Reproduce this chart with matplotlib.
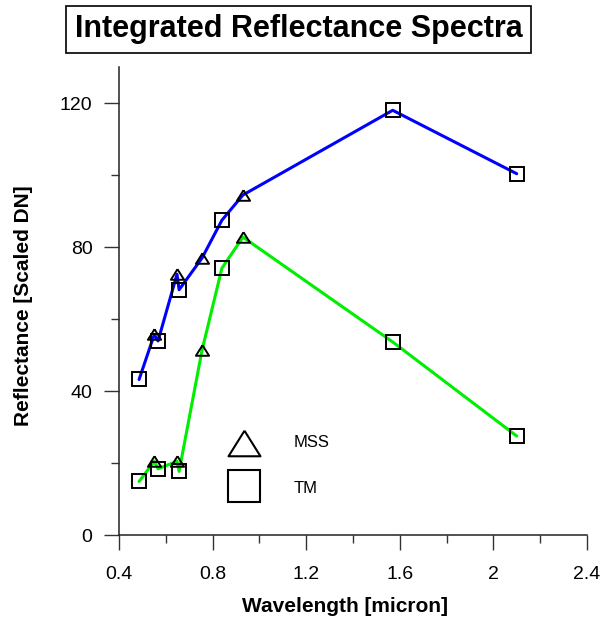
import numpy as np
import matplotlib
matplotlib.use('Agg')
import matplotlib.pyplot as plt
from matplotlib.ticker import MultipleLocator

plt.rcParams['font.family'] = ['Liberation Sans', 'DejaVu Sans']

# band centres [micron]
mss_wl = [0.551, 0.648, 0.755, 0.93]
tm_wl = [0.486, 0.567, 0.657, 0.84, 1.57, 2.1]

# bright target (blue) and dark target (green), scaled DN
mss_bright = [55.8, 72.5, 77.0, 94.5]
tm_bright = [43.3, 54.0, 68.2, 87.5, 118.0, 100.4]
mss_dark = [20.6, 20.6, 51.4, 82.8]
tm_dark = [15.0, 18.5, 17.8, 74.2, 53.7, 27.6]

tri = [(0, 0.8), (-1, -0.8), (1, -0.8), (0, 0.8)]

fig = plt.figure(figsize=(6.03, 6.18), dpi=100)
ax = fig.add_axes([0.1973, 0.1335, 0.776, 0.758])


def spectrum(mss, tm, color):
    wl = np.concatenate([mss_wl, tm_wl])
    val = np.concatenate([mss, tm])
    order = np.argsort(wl)
    ax.plot(wl[order], val[order], color=color, lw=2.2, zorder=2, solid_capstyle='round')
    ax.plot(mss_wl, mss, ls='none', marker=tri, ms=9.5, mfc='none', mec='black', mew=1.4, zorder=3)
    ax.plot(tm_wl, tm, ls='none', marker='s', ms=9.5, mfc='none', mec='black', mew=1.4, zorder=3)


spectrum(mss_bright, tm_bright, '#0000ff')
spectrum(mss_dark, tm_dark, '#00ee00')

ax.set_xlim(0.4, 2.4)
ax.set_ylim(0, 130)
ax.xaxis.set_major_locator(MultipleLocator(0.4))
ax.xaxis.set_minor_locator(MultipleLocator(0.2))
ax.yaxis.set_major_locator(MultipleLocator(40))
ax.yaxis.set_minor_locator(MultipleLocator(20))
ax.set_xticks([0.4, 0.8, 1.2, 1.6, 2.0, 2.4])
ax.set_xticklabels(['0.4', '0.8', '1.2', '1.6', '2', '2.4'])

for s in ['top', 'right']:
    ax.spines[s].set_visible(False)
for s in ['left', 'bottom']:
    ax.spines[s].set_color('#222222')
    ax.spines[s].set_linewidth(1.1)
ax.tick_params(which='major', direction='out', length=11, width=1, color='#333333',
               labelsize=14, pad=8)
ax.tick_params(axis='x', which='major', pad=11)
ax.tick_params(which='minor', direction='out', length=5.5, width=1, color='#333333')

ax.set_xlabel('Wavelength [micron]', fontsize=15, fontweight='bold', va='center')
ax.xaxis.set_label_coords(0.483, -0.151)
ax.set_ylabel('Reflectance [Scaled DN]', fontsize=15, fontweight='bold', va='center')
ax.yaxis.set_label_coords(-0.205, 0.49)

# key
ax.plot([0.268], [0.197], transform=ax.transAxes, marker=tri, ms=23, mfc='none',
        mec='black', mew=1.5, clip_on=False)
ax.plot([0.268], [0.106], transform=ax.transAxes, marker='s', ms=23, mfc='none',
        mec='black', mew=1.5, clip_on=False)
ax.text(0.374, 0.199, 'MSS', transform=ax.transAxes, fontsize=12, va='center')
ax.text(0.374, 0.101, 'TM', transform=ax.transAxes, fontsize=12, va='center')

fig.text(298.5 / 603, 1 - 29.5 / 618, 'Integrated Reflectance Spectra', fontsize=22,
         fontweight='bold', ha='center', va='center',
         bbox=dict(boxstyle='square,pad=0.28', fc='white', ec='black', lw=1.2))

fig.savefig('out.png', dpi=100)
